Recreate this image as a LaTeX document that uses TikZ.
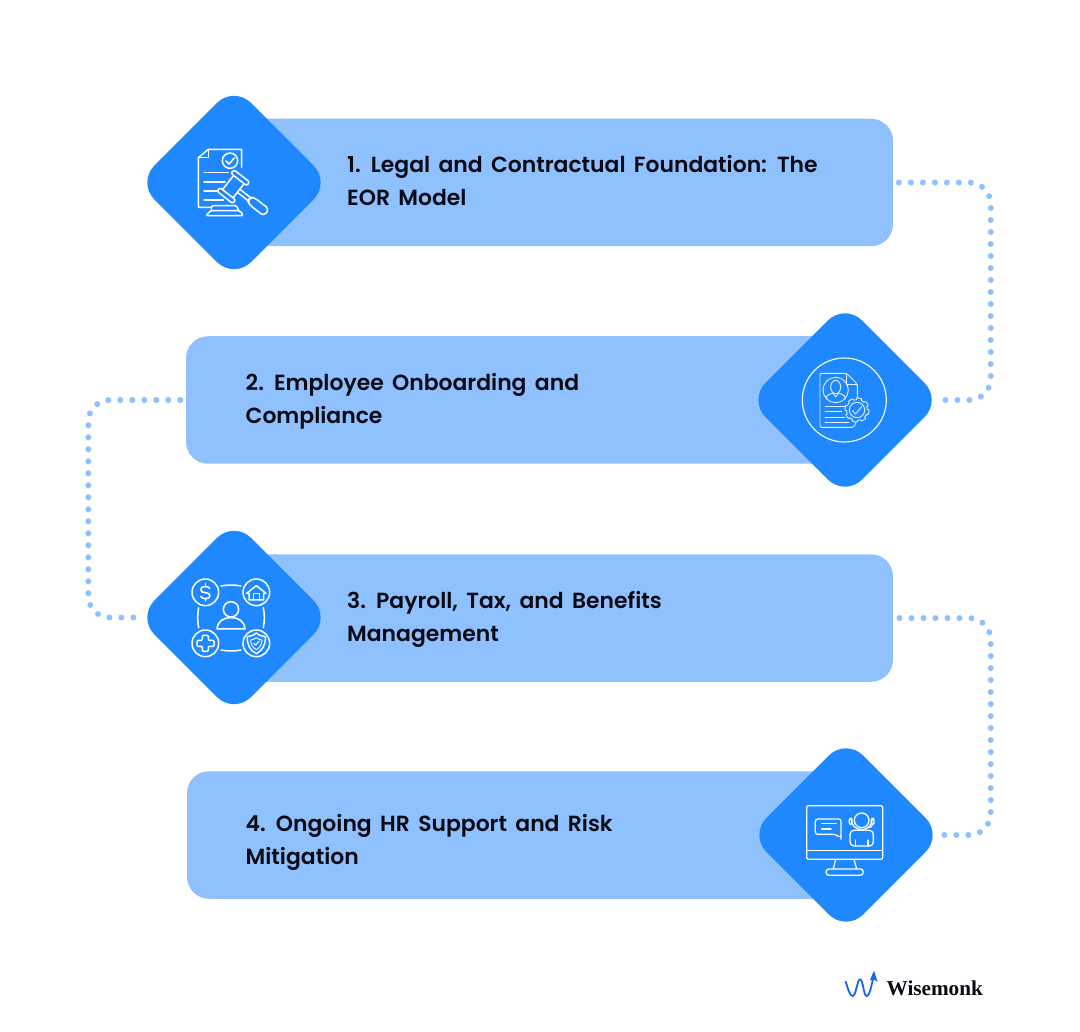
\documentclass[tikz,border=0pt]{standalone}
\usepackage{fontspec}
\setmainfont{Poppins}[BoldFont={Poppins SemiBold},WordSpace=1.6]
\newfontfamily\logofont{Liberation Serif}
\usetikzlibrary{calc}
\definecolor{barblue}{HTML}{8FC1FF}
\definecolor{diablue}{HTML}{1F88FF}
\definecolor{logoblue}{HTML}{1565F0}
\definecolor{inktext}{HTML}{0A0A14}
\tikzset{
  x=1pt,y=-1pt,
  bar/.style={fill=barblue,draw=none,rounded corners=22pt,minimum width=659pt,minimum height=127.5pt,inner sep=0pt},
  dia/.style={fill=diablue,draw=none,rounded corners=24pt,minimum width=136.6pt,minimum height=136.6pt,inner sep=0pt,rotate=45},
  label/.style={anchor=west,align=left,inner sep=0pt,text=inktext,font=\fontsize{21.9}{33}\selectfont\bfseries},
  dots/.style={draw=barblue,line width=6pt,line cap=round,dash pattern=on 0pt off 12pt,rounded corners=21.5pt},
  zoomed/.style 2 args={shift={(#1,#2)},x=.33333pt,y=-.33333pt},
  ico/.style={draw=white,line width=1.5pt,line cap=round,line join=round},
  ico4/.style={draw=white,line width=1.25pt,line cap=round,line join=round},
  thin ico/.style={draw=white!88!diablue,line width=.9pt,line cap=round,line join=round},
}
\begin{document}
\begin{tikzpicture}
\useasboundingbox (0,0) rectangle (1080,1032);
\fill[white] (0,0) rectangle (1080,1032);
% bars
\node[bar] (bar1) at (563.5,182.5) {};
\node[bar] (bar2) at (515.5,400) {};
\node[bar] (bar3) at (563.5,618) {};
\node[bar] (bar4) at (516.5,835) {};
% connectors
\draw[dots] ($(bar1.east)+(5.7,0)$) -- ($(bar1.east)+(97.5,0)$) -- ($(bar1.east)+(97.5,217.5)$) -- ($(bar1.east)+(51.5,217.5)$);
\draw[dots] ($(bar2.west)+(-5.5,0)$) -- ($(bar2.west)+(-97.5,0)$) -- ($(bar2.west)+(-97.5,217.5)$) -- ($(bar2.west)+(-50,217.5)$);
\draw[dots] ($(bar3.east)+(6.3,0)$) -- ($(bar3.east)+(97.5,0)$) -- ($(bar3.east)+(97.5,217)$) -- ($(bar3.east)+(49.5,217)$);
% diamonds
\node[dia] (d1) at (234,182.5) {};
\node[dia] (d2) at (845,400) {};
\node[dia] (d3) at (234,617.5) {};
\node[dia] (d4) at (846,835) {};
% labels
\node[label] (t1) at (347,181) {1. Legal and Contractual Foundation: The\\EOR Model};
\node[label] (t2) at (245.5,401) {2. Employee Onboarding and\\Compliance};
\node[label] (t3) at (347,619) {3. Payroll, Tax, and Benefits\\Management};
\node[label] (t4) at (245.5,842) {4. Ongoing HR Support and Risk\\Mitigation};
% icon 1
\begin{scope}[zoomed={140}{90}]
  \draw[ico] (212,352) -- (175,352) -- (175,203) -- (205,178) -- (305,178) -- (305,232);
  \draw[ico] (205,178) -- (205,203) -- (175,203);
  \draw[ico] (270,212) circle (23);
  \draw[ico] (258,213) -- (267,222) -- (283,204);
  \draw[ico] (192,248) -- (265,248) (192,276) -- (255,276) (192,303) -- (232,303) (192,330) -- (250,330);
  \draw[ico,rounded corners=1.5pt] (214,362) -- (214,347) -- (290,347) -- (296,362);
  \draw[ico,rounded corners=1.5pt] (212,362) -- (300,362) -- (310,377) -- (197,377) -- cycle;
  \begin{scope}[shift={(280,290)},rotate=-38]
    \draw[ico,fill=diablue] (-20,-28) rectangle (20,28);
    \draw[ico,rounded corners=2pt,fill=diablue] (-30,-41) rectangle (30,-27);
    \draw[ico,rounded corners=2pt,fill=diablue] (-30,27) rectangle (30,41);
    \draw[ico] (20,-6) -- (62,-6) (20,6) -- (62,6);
    \draw[ico,rounded corners=3.5pt,fill=diablue] (60,-6) -- (70,-13) -- (126,-13) -- (126,13) -- (70,13) -- (60,6) -- cycle;
  \end{scope}
\end{scope}
% icon 2
\begin{scope}[zoomed={750}{305}]
  \draw[thin ico,draw=white,line width=1.1pt] (283,285) circle (126);
  \draw[thin ico,rounded corners=2pt] (322,285) -- (322,237) -- (290,205) -- (210,205) -- (210,367) -- (312,367) -- (318,352);
  \draw[thin ico] (290,205) -- (290,237) -- (322,237);
  \draw[thin ico] (257,255) circle (38);
  \draw[thin ico] (257,246) ellipse (15 and 20);
  \draw[thin ico] (228,280) .. controls (230,268) and (242,268) .. (248,264);
  \draw[thin ico] (286,280) .. controls (284,268) and (272,268) .. (266,264);
  \draw[thin ico] (248,264) -- (257,276) -- (266,264);
  \draw[thin ico] (225,303) -- (285,303) (225,320) -- (275,320) (225,336) -- (285,336) (225,352) -- (297,352);
  \begin{scope}[shift={(321,315)}]
    \draw[thin ico,fill=diablue] plot[domain=0:360,samples=97] (\x:{36-5*(sin(8*\x)<0)}) -- cycle;
    \draw[thin ico] (0,0) circle (23);
    \draw[thin ico] (-14,2) -- (-4,12) -- (14,-10);
  \end{scope}
\end{scope}
% icon 3
\begin{scope}[zoomed={140}{525}]
  \foreach \cx/\cy in {196/202,349/202,196/355,349/355} \draw[ico] (\cx,\cy) circle (40);
  \draw[ico] (243,183) .. controls (263,179) and (283,179) .. (303,183);
  \draw[ico] (243,375) .. controls (263,379) and (283,379) .. (303,375);
  \draw[ico] (176,248) .. controls (172,268) and (172,288) .. (176,308);
  \draw[ico] (370,248) .. controls (374,268) and (374,288) .. (370,308);
  \draw[ico] (273,253) circle (23);
  \draw[ico] (231,312) .. controls (233,288) and (250,278) .. (273,278) .. controls (296,278) and (313,288) .. (315,312) -- cycle;
  % dollar
  \draw[ico] (209,190) .. controls (204,182) and (182,182) .. (182,194) .. controls (182,208) and (210,198) .. (210,212) .. controls (210,224) and (187,224) .. (182,214);
  \draw[ico] (196,176) -- (196,184) (196,220) -- (196,228);
  % house
  \draw[ico] (320,205) -- (349,182) -- (378,205) -- (371,205) -- (371,225) -- (327,225) -- (327,205) -- cycle;
  \draw[ico] (340,225) -- (340,205) -- (358,205) -- (358,225);
  % plus
  \draw[ico,rounded corners=1pt] (187,331) -- (205,331) -- (205,346) -- (222,346) -- (222,364) -- (205,364) -- (205,379) -- (187,379) -- (187,364) -- (171,364) -- (171,346) -- (187,346) -- cycle;
  % shield
  \draw[ico] (349,324) .. controls (358,332) and (368,334) .. (376,335) .. controls (377,360) and (368,376) .. (349,386) .. controls (330,376) and (321,360) .. (322,335) .. controls (330,334) and (340,332) .. (349,324) -- cycle;
  \draw[ico,line width=.9pt] (349,338) .. controls (354,342) and (360,344) .. (366,345) .. controls (366,358) and (360,368) .. (349,374) .. controls (338,368) and (332,358) .. (332,345) .. controls (338,344) and (344,342) .. (349,338) -- cycle;
  \draw[ico,line width=1.1pt] (341,354) -- (347,360) -- (358,348);
\end{scope}
% icon 4
\begin{scope}[zoomed={750}{745}]
  \draw[ico4,rounded corners=2pt] (170,182) rectangle (398,343);
  \draw[ico4] (170,317) -- (398,317);
  \draw[ico4] (257,343) -- (250,372) (312,343) -- (320,372);
  \draw[ico4,rounded corners=3pt] (228,372) rectangle (340,391);
  \draw[ico4,rounded corners=2.5pt] (273,275) -- (273,222) -- (196,222) -- (196,268) -- (255,268) -- (273,278) -- cycle;
  \draw[ico4] (215,236) -- (258,236) (215,252) -- (243,252);
  \draw[ico4] (335,226) circle (22);
  \draw[ico4] (303,222) arc[start angle=180,end angle=0,radius=32];
  \draw[ico4,rounded corners=1pt] (306,220) rectangle (298,238);
  \draw[ico4,rounded corners=1pt] (364,220) rectangle (372,238);
  \draw[ico4] (368,238) .. controls (368,246) and (360,248) .. (352,248);
  \draw[ico4,rounded corners=4pt] (300,303) -- (300,256) -- (370,256) -- (370,303) -- cycle;
  \draw[ico4] (316,285) -- (316,303) (354,285) -- (354,303);
\end{scope}
% logo
\begin{scope}[zoomed={830}{960}]
  \draw[logoblue,line width=1.8pt,line cap=round,line join=round] (47,65) .. controls (55,90) and (60,108) .. (68,108) .. controls (78,108) and (82,58) .. (90,58) .. controls (100,58) and (100,108) .. (110,108) .. controls (120,108) and (125,70) .. (131,50);
  \fill[logoblue] (132,32) -- (143,66) -- (131,57) -- (119,62) -- cycle;
\end{scope}
\node[anchor=base west,inner sep=0pt,text=inktext] (logo) at (886.5,995) {\logofont\fontsize{21.2}{21}\selectfont\bfseries Wisemonk};
\end{tikzpicture}
\end{document}
